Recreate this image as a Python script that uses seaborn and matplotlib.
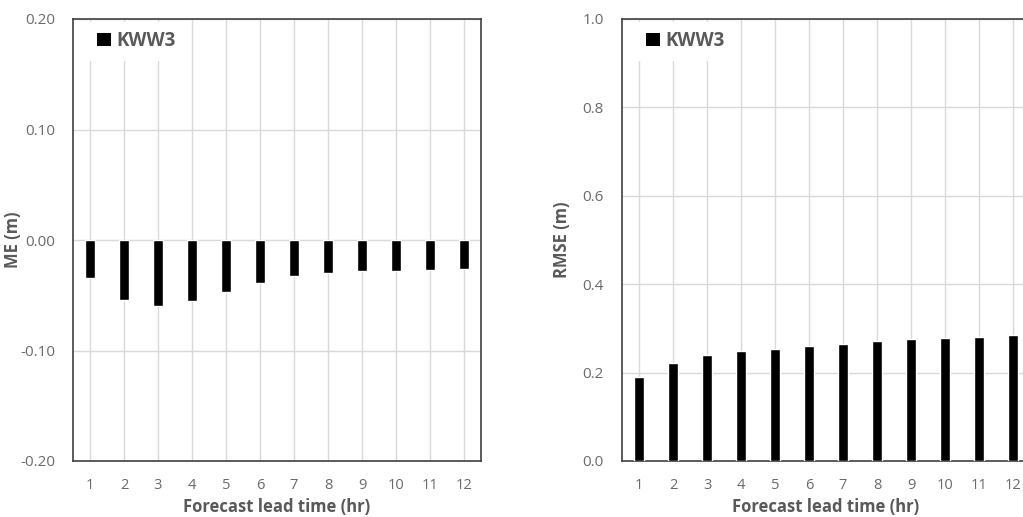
import numpy as np
import pandas as pd
import matplotlib
matplotlib.use("Agg")
import matplotlib.pyplot as plt
import seaborn as sns
from matplotlib.patches import Patch

sns.set_style("white")
plt.rcParams['font.family'] = ['Open Sans', 'DejaVu Sans']

# Data
lead_time = ['1', '2', '3', '4', '5', '6', '7', '8', '9', '10', '11', '12']
me_kww3 = [-0.034, -0.054, -0.060, -0.055, -0.047, -0.039,
           -0.033, -0.030, -0.028, -0.028, -0.027, -0.026]
rmse_kww3 = [0.191, 0.222, 0.239, 0.249, 0.254, 0.260,
             0.265, 0.271, 0.275, 0.279, 0.281, 0.284]
series_name = 'KWW3'

text_col = '#595959'
tick_col = '#6a6a6a'
grid_col = '#d9d9d9'
spine_col = '#404040'

me_df = pd.DataFrame({'lead': lead_time, 'value': me_kww3})
rmse_df = pd.DataFrame({'lead': lead_time, 'value': rmse_kww3})

W, H = 1023, 517
fig = plt.figure(figsize=(W / 100, H / 100), dpi=100)
ax1 = fig.add_axes([73 / W, (H - 461) / H, 408 / W, 442 / H])
ax2 = fig.add_axes([622 / W, (H - 461) / H, 408 / W, 442 / H])


def style_axis(ax, df, ylim, yticks, fmt, ylabel, bar_w):
    sns.barplot(data=df, x='lead', y='value', color='black', width=bar_w,
                saturation=1, ax=ax, zorder=3)
    ax.set_xlim(-0.5, len(lead_time) - 0.5)
    ax.set_ylim(*ylim)
    ax.set_yticks(yticks)
    ax.set_yticklabels([fmt.format(v) for v in yticks])
    ax.set_axisbelow(True)
    ax.grid(True, axis='both', color=grid_col, linewidth=1)
    for s in ax.spines.values():
        s.set_color(spine_col)
        s.set_linewidth(1.2)
    ax.tick_params(axis='x', length=0, pad=12, labelsize=10.5, labelcolor=tick_col)
    ax.tick_params(axis='y', direction='in', length=4, color=spine_col,
                   pad=13, labelsize=11, labelcolor=tick_col)
    ax.set_xlabel('Forecast lead time (hr)', fontsize=12, fontweight='bold',
                  color=text_col, labelpad=4)
    ax.set_ylabel(ylabel, fontsize=12, fontweight='bold', color=text_col)
    ax.yaxis.set_label_coords(-0.125, 0.5)
    handle = Patch(facecolor='black', edgecolor='none')
    leg = ax.legend([handle], [series_name], loc='upper left',
                    bbox_to_anchor=(0.037, 0.993), frameon=True, framealpha=1,
                    facecolor='white', edgecolor='none', fancybox=False,
                    handlelength=0.7, handleheight=0.7, handletextpad=0.3,
                    borderpad=0.5, borderaxespad=0,
                    prop={'size': 13.5, 'weight': 'bold'})
    for t in leg.get_texts():
        t.set_color(text_col)


style_axis(ax1, me_df, (-0.2, 0.2), [-0.2, -0.1, 0.0, 0.1, 0.2], '{:.2f}', 'ME (m)', 0.3)
style_axis(ax2, rmse_df, (0.0, 1.0), [0.0, 0.2, 0.4, 0.6, 0.8, 1.0], '{:.1f}', 'RMSE (m)', 0.32)

fig.savefig('out.png', dpi=100)
